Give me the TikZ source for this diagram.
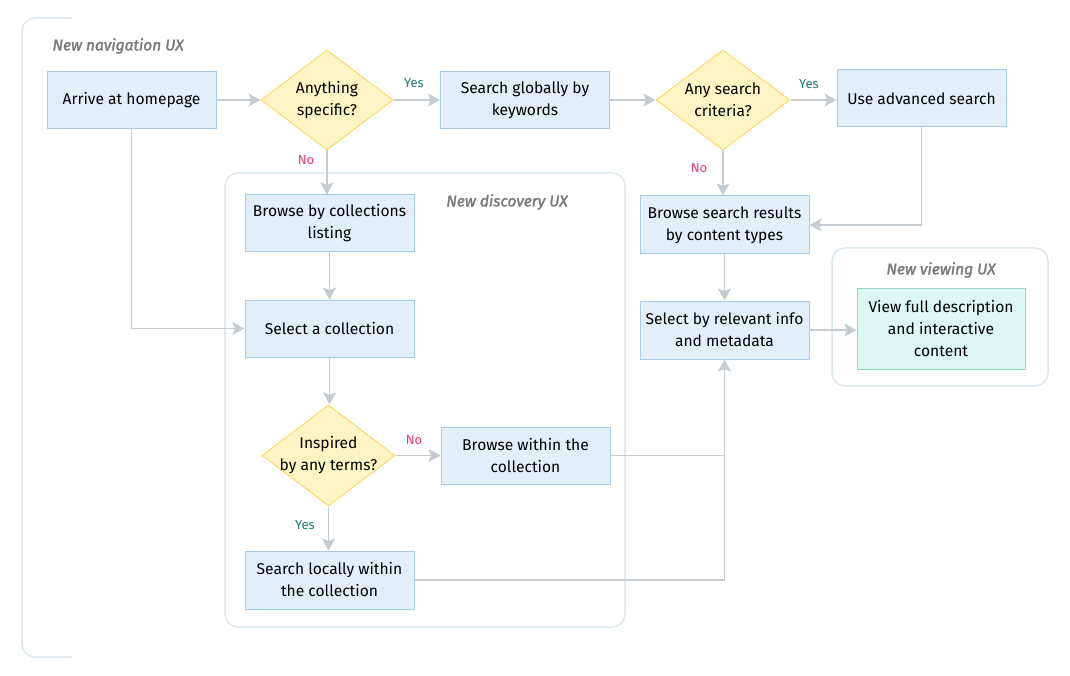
\documentclass[tikz,border=0pt]{standalone}
\usepackage{fontspec}
\setmainfont{Fira Sans}
\usetikzlibrary{arrows.meta,shapes.geometric}
\definecolor{boxfill}{HTML}{E2EFFA}
\definecolor{boxline}{HTML}{A9CDE9}
\definecolor{decfill}{HTML}{FFF4C6}
\definecolor{decline}{HTML}{F8D96A}
\definecolor{mintfill}{HTML}{DCF8F3}
\definecolor{mintline}{HTML}{93D8C6}
\definecolor{grpline}{HTML}{D9E7EE}
\definecolor{conn}{HTML}{C4CCD2}
\definecolor{yescol}{HTML}{1B7B6B}
\definecolor{nocol}{HTML}{EA3B6E}
\definecolor{grplabel}{HTML}{7A7A7A}
\begin{document}
\begin{tikzpicture}[x=1pt,y=-1pt,
  every node/.style={font=\fontsize{15.6}{22}\selectfont},
  stepbox/.style={draw=boxline,fill=boxfill,line width=1pt,minimum width=169pt,minimum height=57pt,align=center,inner sep=2pt},
  decision/.style={draw=decline,fill=decfill,line width=1pt,diamond,aspect=1.3,inner xsep=-10pt,inner ysep=-6pt,minimum width=132pt,minimum height=100pt,align=center},
  viewbox/.style={draw=mintline,fill=mintfill,line width=1pt,minimum width=168pt,minimum height=81pt,align=center,inner sep=2pt},
  group/.style={draw=grpline,line width=1.5pt,rounded corners=13pt},
  grptext/.style={font=\fontsize{15.5}{17}\selectfont\itshape\addfontfeature{FakeBold=2},text=grplabel},
  conn/.style={draw=conn,line width=1.6pt},
  arr/.style={conn,-{Stealth[length=12pt,width=13pt,inset=2.5pt]}},
  yeslab/.style={font=\fontsize{13}{15}\selectfont,text=yescol},
  nolab/.style={font=\fontsize{13}{15}\selectfont,text=nocol}]
\useasboundingbox (0,0) rectangle (1070,676);

% groups
\draw[group] (72,18) -- (22,18) -- (22,657) -- (72,657);
\node[grptext,anchor=west] (navlab) at (49,46) {New navigation UX};
\draw[group] (225,173) rectangle (625,627);
\node[grptext] (disclab) at (507,202) {New discovery UX};
\draw[group] (832,248) rectangle (1048,386);
\node[grptext] (viewlab) at (941,270) {New viewing UX};

% nodes
\node[stepbox] (home) at (131.5,100) {Arrive at homepage};
\node[decision] (d1) at (327,100) {Anything\\specific?};
\node[stepbox] (sg) at (525,100) {Search globally by\\keywords};
\node[decision,minimum width=134pt] (d2) at (723,100) {Any search\\criteria?};
\node[stepbox] (adv) at (921.5,98.5) {Use advanced search};
\node[stepbox,minimum height=58pt] (bsr) at (724.5,225) {Browse search results\\by content types};
\node[stepbox,minimum height=58pt] (sel) at (724.5,330) {Select by relevant info\\and metadata};
\node[viewbox] (view) at (941,328.5) {View full description\\and interactive\\content};
\node[stepbox] (bcl) at (329.5,223.5) {Browse by collections\\listing};
\node[stepbox] (sc) at (329.5,328.5) {Select a collection};
\node[decision,minimum width=133pt,minimum height=101pt] (d3) at (328.5,455.5) {Inspired\\by any terms?};
\node[stepbox] (bw) at (525.5,455.5) {Browse within the\\collection};
\node[stepbox,minimum height=58pt] (sl) at (329.5,580) {Search locally within\\the collection};

% connectors
\draw[arr] (home.east) -- (d1.west);
\draw[arr] (d1.east) -- (d1.east -| sg.west);
\node[yeslab] (y1) at (414,83) {Yes};
\draw[arr] (sg.east) -- (sg.east -| d2.west);
\draw[arr] (d2.east) -- (d2.east -| adv.west);
\node[yeslab] (y2) at (809,84) {Yes};
\draw[arr] (d2.south) -- (d2.south |- bsr.north);
\node[nolab] (n2) at (699,168) {No};
\draw[arr] (adv.south) |- (bsr.east);
\draw[arr] (bsr.south) -- (sel.north);
\draw[arr] (sel.east) -- (sel.east -| view.west);
\draw[arr] (d1.south) -- (d1.south |- bcl.north);
\node[nolab] (n1) at (306,160) {No};
\draw[arr] (bcl.south) -- (sc.north);
\draw[arr] (home.south) |- (sc.west);
\draw[arr] (sc.south) -- (sc.south |- d3.north);
\draw[arr] (d3.east) -- (d3.east -| bw.west);
\node[nolab] (n3) at (414,440) {No};
\draw[conn] (bw.east) -- (bw.east -| sel.south);
\draw[arr] (sl.east) -| (sel.south);
\draw[arr] (d3.south) -- (d3.south |- sl.north);
\node[yeslab] (y3) at (305,525) {Yes};
\end{tikzpicture}
\end{document}
